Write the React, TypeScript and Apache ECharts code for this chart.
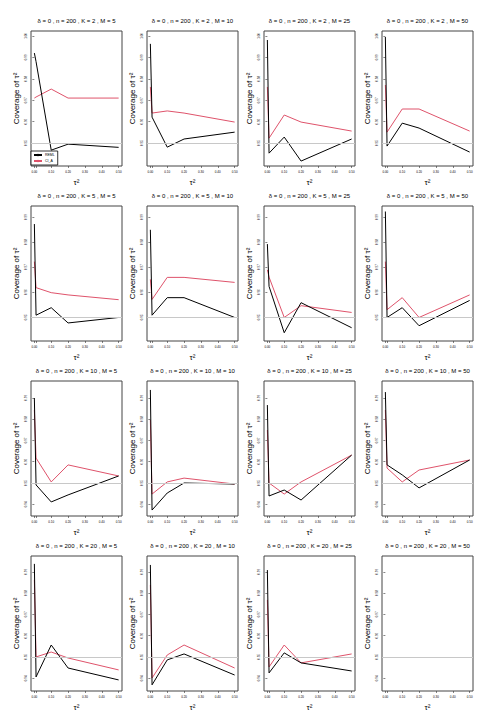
import React, { useEffect, useRef } from "react";
import * as echarts from "echarts";

const X_VALUES = [0, 0.01, 0.1, 0.2, 0.5];
const K_VALUES = [2, 5, 10, 20];
const M_VALUES = [5, 10, 25, 50];
const X_TICKS = [0, 0.01, 0.1, 0.2, 0.3, 0.4, 0.5];
const X_LABELS = [0, 0.1, 0.2, 0.3, 0.4, 0.5];
const NOMINAL = 0.95;

// y-axis ranges and tick labels per row
const Y_MIN = [0.9393, 0.9405, 0.9345, 0.934];
const Y_MAX = [1.0023, 0.9944, 0.9979, 0.9974];
const Y_TICKS_ROW1 = [0.95, 0.96, 0.97, 0.98, 0.99, 1.0];
const Y_TICKS_ROW2 = [0.95, 0.96, 0.97, 0.98, 0.99];
const Y_TICKS_ROW3 = [0.94, 0.95, 0.96, 0.97, 0.98, 0.99];
const Y_TICKS_ROW4 = [0.94, 0.95, 0.96, 0.97, 0.98, 0.99];

// REML coverage, one array per panel (row-major: K rows, M columns)
const REML_K2_M5 = [0.992, 0.988, 0.9467, 0.9495, 0.948];
const REML_K2_M10 = [0.9963, 0.9621, 0.9481, 0.9519, 0.9551];
const REML_K2_M25 = [0.9981, 0.9453, 0.9528, 0.9416, 0.9519];
const REML_K2_M50 = [0.9995, 0.9486, 0.9593, 0.957, 0.9458];
const REML_K5_M5 = [0.9872, 0.9508, 0.9538, 0.9477, 0.9499];
const REML_K5_M10 = [0.9849, 0.9508, 0.9578, 0.9578, 0.9499];
const REML_K5_M25 = [0.9792, 0.9623, 0.9438, 0.9558, 0.9458];
const REML_K5_M50 = [0.9922, 0.9499, 0.9538, 0.9466, 0.9567];
const REML_K10_M5 = [0.9899, 0.9491, 0.9411, 0.9444, 0.9533];
const REML_K10_M10 = [0.9937, 0.9373, 0.9453, 0.95, 0.9495];
const REML_K10_M25 = [0.9866, 0.9439, 0.9467, 0.942, 0.9631];
const REML_K10_M50 = [0.9927, 0.9585, 0.9538, 0.9477, 0.9608];
const REML_K20_M5 = [0.9937, 0.9406, 0.9556, 0.9448, 0.9392];
const REML_K20_M10 = [0.9932, 0.9369, 0.9486, 0.9514, 0.9415];
const REML_K20_M25 = [0.9908, 0.9425, 0.9519, 0.9472, 0.9434];
const REML_K20_M50: number[] = [];

// CI_A coverage
const CIA_K2_M5 = [0.971, 0.9715, 0.9752, 0.971, 0.971];
const CIA_K2_M10 = [0.9762, 0.964, 0.965, 0.964, 0.9598];
const CIA_K2_M25 = [0.9762, 0.9523, 0.9631, 0.9598, 0.9556];
const CIA_K2_M50 = [0.9771, 0.9551, 0.9659, 0.9659, 0.9556];
const CIA_K5_M5 = [0.9722, 0.9618, 0.9598, 0.9589, 0.957];
const CIA_K5_M10 = [0.9651, 0.9571, 0.9659, 0.9659, 0.9639];
const CIA_K5_M25 = [0.9689, 0.966, 0.9499, 0.9546, 0.9519];
const CIA_K5_M50 = [0.9722, 0.953, 0.9578, 0.9499, 0.9589];
const CIA_K10_M5 = [0.9843, 0.9617, 0.9505, 0.9585, 0.9533];
const CIA_K10_M10 = [0.9796, 0.9448, 0.9505, 0.9523, 0.9495];
const CIA_K10_M25 = [0.9749, 0.95, 0.9448, 0.9505, 0.9631];
const CIA_K10_M50 = [0.9843, 0.957, 0.9505, 0.9561, 0.9608];
const CIA_K20_M5 = [0.9862, 0.95, 0.9523, 0.9495, 0.9439];
const CIA_K20_M10 = [0.9838, 0.9401, 0.9509, 0.9556, 0.9448];
const CIA_K20_M25 = [0.9768, 0.9453, 0.9556, 0.9472, 0.9514];
const CIA_K20_M50: number[] = [];

const REML = [
  [REML_K2_M5, REML_K2_M10, REML_K2_M25, REML_K2_M50],
  [REML_K5_M5, REML_K5_M10, REML_K5_M25, REML_K5_M50],
  [REML_K10_M5, REML_K10_M10, REML_K10_M25, REML_K10_M50],
  [REML_K20_M5, REML_K20_M10, REML_K20_M25, REML_K20_M50],
];
const CIA = [
  [CIA_K2_M5, CIA_K2_M10, CIA_K2_M25, CIA_K2_M50],
  [CIA_K5_M5, CIA_K5_M10, CIA_K5_M25, CIA_K5_M50],
  [CIA_K10_M5, CIA_K10_M10, CIA_K10_M25, CIA_K10_M50],
  [CIA_K20_M5, CIA_K20_M10, CIA_K20_M25, CIA_K20_M50],
];
const Y_TICKS = [Y_TICKS_ROW1, Y_TICKS_ROW2, Y_TICKS_ROW3, Y_TICKS_ROW4];

const GRID_LEFT = [31, 147, 264, 382];
const GRID_TOP = [31, 206, 381, 556];
const GRID_W = 91;
const GRID_H = 135;
const FONT = "'Liberation Sans', Arial, Helvetica, sans-serif";
const RED = "#DF536B";

export default function App() {
  const ref = useRef<HTMLDivElement>(null);
  useEffect(() => {
    if (!ref.current) return;
    const chart = echarts.init(ref.current, undefined, { renderer: "svg" });
    const titles: any[] = [];
    const grids: any[] = [];
    const xAxes: any[] = [];
    const yAxes: any[] = [];
    const series: any[] = [];
    let idx = 0;
    for (let r = 0; r < 4; r++) {
      for (let c = 0; c < 4; c++) {
        const left = GRID_LEFT[c];
        const top = GRID_TOP[r];
        titles.push({
          text: `δ = 0 , n = 200 , K = ${K_VALUES[r]} , M = ${M_VALUES[c]}`,
          left: left + GRID_W / 2,
          top: top - 13,
          textAlign: "center",
          padding: 0,
          textStyle: { fontSize: 6, fontWeight: "normal", color: "#000", fontFamily: FONT },
        });
        grids.push({
          left,
          top,
          width: GRID_W,
          height: GRID_H,
          show: true,
          borderColor: "#444",
          borderWidth: 1,
          backgroundColor: "transparent",
        });
        xAxes.push({
          type: "value",
          gridIndex: idx,
          min: -0.02,
          max: 0.52,
          name: "τ²",
          nameLocation: "middle",
          nameGap: 12,
          nameTextStyle: { fontSize: 8, color: "#000", fontFamily: FONT },
          splitLine: { show: false },
          axisLine: { show: false },
          axisTick: { show: true, length: 2, lineStyle: { color: "#333", width: 0.6 }, customValues: X_TICKS },
          axisLabel: {
            fontSize: 3,
            margin: 4,
            color: "#000",
            fontFamily: FONT,
            customValues: X_LABELS,
            formatter: (v: number) => v.toFixed(2),
          },
        });
        yAxes.push({
          type: "value",
          gridIndex: idx,
          min: Y_MIN[r],
          max: Y_MAX[r],
          name: "Coverage of τ²",
          nameLocation: "middle",
          nameGap: 11,
          nameRotate: 90,
          nameTextStyle: { fontSize: 8, color: "#000", fontFamily: FONT },
          splitLine: { show: false },
          axisLine: { show: false },
          axisTick: { show: true, length: 2, lineStyle: { color: "#333", width: 0.6 }, customValues: Y_TICKS[r] },
          axisLabel: {
            fontSize: 3,
            margin: 4,
            rotate: 90,
            color: "#000",
            fontFamily: FONT,
            customValues: Y_TICKS[r],
            formatter: (v: number) => v.toFixed(2),
          },
        });
        const reml = REML[r][c].map((y, i) => [X_VALUES[i], y]);
        const cia = CIA[r][c].map((y, i) => [X_VALUES[i], y]);
        series.push({
          type: "line",
          name: "CI_A",
          xAxisIndex: idx,
          yAxisIndex: idx,
          data: cia,
          symbol: "none",
          lineStyle: { color: RED, width: 1 },
          itemStyle: { color: RED },
          markLine: {
            silent: true,
            symbol: ["none", "none"],
            label: { show: false },
            lineStyle: { color: "#c8c8c8", type: "solid", width: 1 },
            data: [{ yAxis: NOMINAL }],
          },
        });
        series.push({
          type: "line",
          name: "REML",
          xAxisIndex: idx,
          yAxisIndex: idx,
          data: reml,
          symbol: "none",
          lineStyle: { color: "#000", width: 1 },
          itemStyle: { color: "#000" },
        });
        idx++;
      }
    }
    chart.setOption({
      animation: false,
      backgroundColor: "#fff",
      title: titles,
      legend: {
        data: ["REML", "CI_A"],
        orient: "vertical",
        left: 31,
        top: 151,
        padding: [2, 3, 2, 2],
        itemGap: 2,
        itemWidth: 8,
        itemHeight: 3,
        borderColor: "#000",
        borderWidth: 0.8,
        backgroundColor: "#fff",
        textStyle: { fontSize: 3.5, color: "#000", fontFamily: FONT, padding: [0, 0, 0, -2] },
      },
      grid: grids,
      xAxis: xAxes,
      yAxis: yAxes,
      series,
    });
    return () => chart.dispose();
  }, []);
  return (
    <div
      ref={ref}
      style={{ position: "fixed", left: 0, top: 0, width: 495, height: 726, background: "#fff" }}
    />
  );
}
